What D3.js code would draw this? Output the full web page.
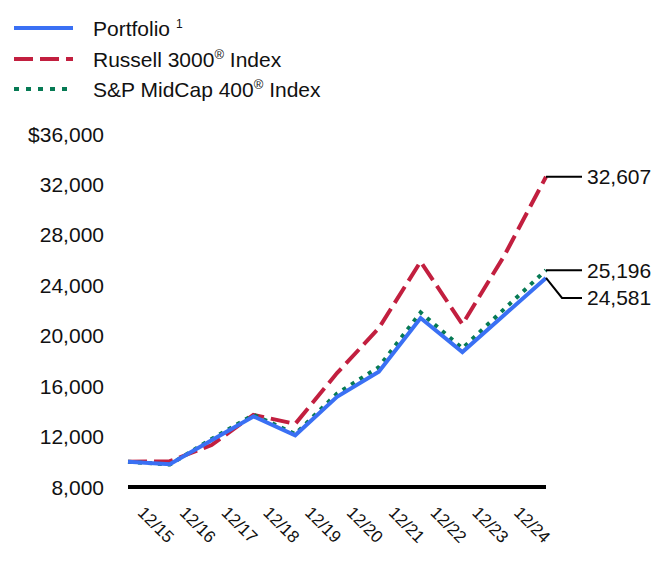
<!DOCTYPE html>
<html>
<head>
<meta charset="utf-8">
<script src="https://cdn.jsdelivr.net/npm/d3@7"></script>
<style>
  html, body { margin: 0; padding: 0; background: #fff; }
  svg { display: block; }
  text { font-family: "Liberation Sans", Arial, Helvetica, sans-serif; fill: #111; }
</style>
</head>
<body>
<svg id="chart" width="672" height="588"></svg>
<script>
// ---- data ----
const dates = ["12/14","12/15","12/16","12/17","12/18","12/19","12/20","12/21","12/22","12/23","12/24"];
const tickLabels = ["12/15","12/16","12/17","12/18","12/19","12/20","12/21","12/22","12/23","12/24"];
const portfolio = [10000, 9810, 11700, 13600, 12100, 15150, 17150, 21400, 18700, 21650, 24581];
const russell3000 = [10000, 10048, 11328, 13722, 13003, 17036, 20596, 25880, 20909, 26337, 32607];
const spMidCap400 = [10000, 9782, 11811, 13730, 12209, 15407, 17512, 21848, 18995, 22118, 25196];
const yTicks = [8000, 12000, 16000, 20000, 24000, 28000, 32000, 36000];

const svg = d3.select("#chart");

const x = d3.scalePoint().domain(dates).range([128, 546]);
const y = d3.scaleLinear().domain([8000, 36000]).range([487, 134]);

const BLUE = "#3a70f4", RED = "#c21f3f", GREEN = "#067a54";

// y tick labels
const fmt = d3.format(",");
svg.append("g").selectAll("text").data(yTicks).join("text")
  .attr("x", 104).attr("y", d => y(d))
  .attr("text-anchor", "end").attr("dominant-baseline", "central")
  .style("font-size", "21px")
  .text((d, i) => (i === yTicks.length - 1 ? "$" : "") + fmt(d));

// x axis baseline
svg.append("line")
  .attr("x1", x(dates[0])).attr("x2", x(dates[dates.length - 1]))
  .attr("y1", y(8000)).attr("y2", y(8000))
  .attr("stroke", "#000").attr("stroke-width", 4);

// x tick labels (rotated)
svg.append("g").selectAll("text").data(tickLabels).join("text")
  .attr("transform", d => `translate(${x(d) - 14},525) rotate(45)`)
  .attr("text-anchor", "middle").attr("dominant-baseline", "central")
  .style("font-size", "17px")
  .text(d => d);

const line = d3.line().x((d, i) => x(dates[i])).y(d => y(d));

svg.append("path").datum(russell3000)
  .attr("d", line).attr("fill", "none")
  .attr("stroke", RED).attr("stroke-width", 4).attr("stroke-dasharray", "19,7");
svg.append("path").datum(spMidCap400)
  .attr("d", line).attr("fill", "none")
  .attr("stroke", GREEN).attr("stroke-width", 4).attr("stroke-dasharray", "4,6");
svg.append("path").datum(portfolio)
  .attr("d", line).attr("fill", "none")
  .attr("stroke", BLUE).attr("stroke-width", 4).attr("stroke-linejoin", "miter");

// end labels with leaders
const xe = x(dates[dates.length - 1]);
const ends = [
  { v: russell3000[10], ly: y(russell3000[10]) },
  { v: spMidCap400[10], ly: y(spMidCap400[10]) },
  { v: portfolio[10], ly: y(portfolio[10]) + 20 }
];
const lg = svg.append("g");
ends.forEach(e => {
  const y0 = y(e.v);
  const pts = e.ly === y0 ? [[xe, y0], [582, y0]] : [[xe, y0], [562, e.ly], [582, e.ly]];
  lg.append("path").attr("d", d3.line()(pts))
    .attr("fill", "none").attr("stroke", "#000").attr("stroke-width", 2);
  lg.append("text").attr("x", 587).attr("y", e.ly)
    .attr("dominant-baseline", "central").style("font-size", "21px")
    .text(fmt(e.v));
});

// legend
const legend = [
  { name: "Portfolio", sup: "1", supSize: 12, color: BLUE, dash: null, y: 28 },
  { name: "Russell 3000", sup: "®", supSize: 13, tail: " Index", color: RED, dash: "19,7", y: 59 },
  { name: "S&P MidCap 400", sup: "®", supSize: 13, tail: " Index", color: GREEN, dash: "5,7", y: 89 }
];
const leg = svg.append("g");
legend.forEach(l => {
  leg.append("line").attr("x1", 14).attr("x2", 73).attr("y1", l.y).attr("y2", l.y)
    .attr("stroke", l.color).attr("stroke-width", 4)
    .attr("stroke-dasharray", l.dash);
  const t = leg.append("text").attr("x", 93).attr("y", l.y + 7.6).style("font-size", "21px");
  t.append("tspan").text(l.name + (l.sup === "1" ? " " : ""));
  t.append("tspan").attr("dy", -8).style("font-size", l.supSize + "px").text(l.sup);
  if (l.tail) t.append("tspan").attr("dy", 8).text(l.tail);
});
</script>
</body>
</html>
